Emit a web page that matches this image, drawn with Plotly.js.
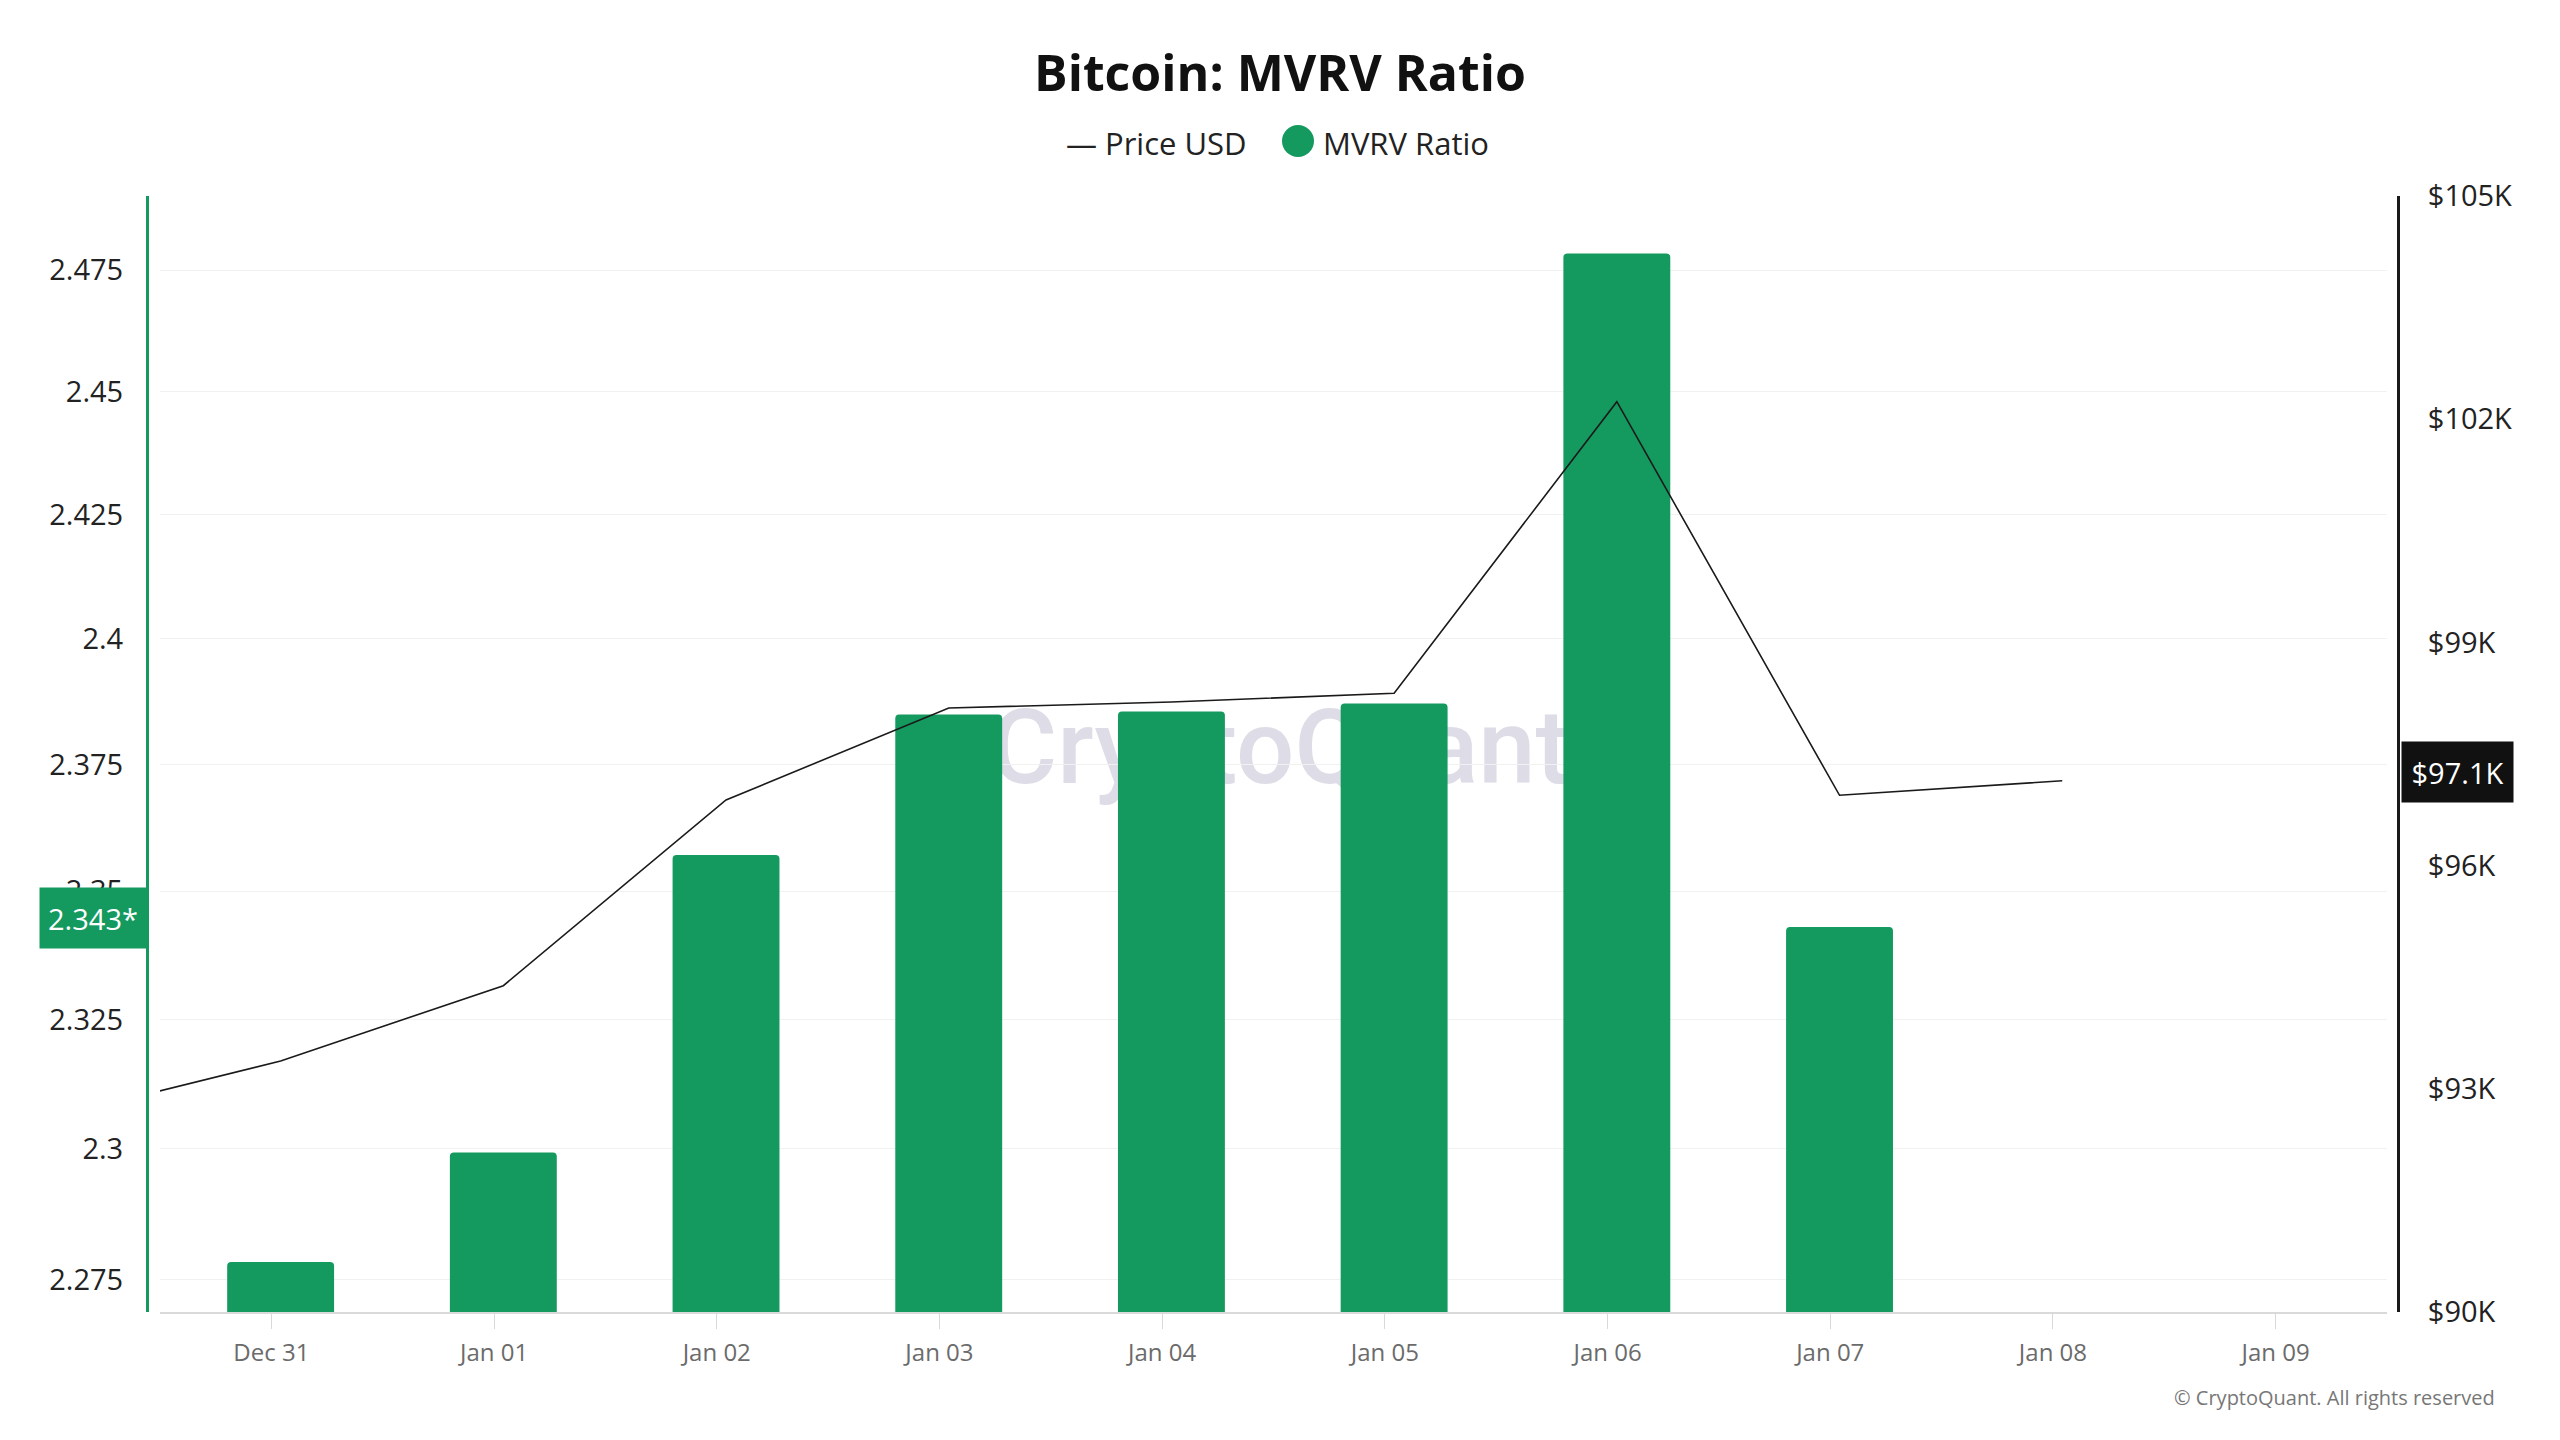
<!DOCTYPE html>
<html>
<head>
<meta charset="utf-8">
<script src="https://cdn.plot.ly/plotly-3.0.1.min.js"></script>
<style>html,body{margin:0;padding:0;background:#fff;}#chart{width:2560px;height:1440px;}</style>
</head>
<body>
<div id="chart"></div>
<script>
// ---- data ----
const PRICE_DATES = ['2024-12-30 01:00','2024-12-31 01:00','2025-01-01 01:00','2025-01-02 01:00','2025-01-03 01:00','2025-01-04 01:00','2025-01-05 01:00','2025-01-06 01:00','2025-01-07 01:00','2025-01-08 01:00'];
const PRICE_USD = [92632, 93374, 94386, 96882, 98118, 98199, 98316, 102235, 96945, 97140];
const MVRV_DATES = ['2024-12-31 01:00','2025-01-01 01:00','2025-01-02 01:00','2025-01-03 01:00','2025-01-04 01:00','2025-01-05 01:00','2025-01-06 01:00','2025-01-07 01:00'];
const MVRV_RATIO = [2.2784, 2.2993, 2.3571, 2.3849, 2.3855, 2.3871, 2.4785, 2.343];
const LEFT_TICKS = [2.275, 2.3, 2.325, 2.35, 2.375, 2.4, 2.425, 2.45, 2.475];
const LEFT_TICK_LABELS = ['2.275','2.3','2.325','2.35','2.375','2.4','2.425','2.45','2.475'];
const RIGHT_TICKS = [90000, 93000, 96000, 99000, 102000, 105000];
const RIGHT_TICK_LABELS = ['$90K','$93K','$96K','$99K','$102K','$105K'];
const X_RANGE = ['2024-12-30 12:00', '2025-01-09 12:00'];
const LEFT_RANGE = [2.2689, 2.4904];
const RIGHT_RANGE = [90000, 105000];

// ---- layout geometry ----
const W = 2560, H = 1440;
const ML = 147, MR = 162, MT = 196, MB = 128;
const PW = W - ML - MR, PH = H - MT - MB;
const px = x => (x - ML) / PW;
const py = y => (H - MB - y) / PH;

const GREEN = '#14995f';
const FONT = 'Open Sans, Noto Sans, sans-serif';

const lastMvrv = MVRV_RATIO[MVRV_RATIO.length - 1];
const lastPrice = PRICE_USD[PRICE_USD.length - 1];

const traces = [
  {
    type: 'bar', name: 'MVRV Ratio', x: MVRV_DATES, y: MVRV_RATIO,
    xaxis: 'x', yaxis: 'y',
    marker: {color: GREEN, cornerradius: 4, line: {width: 0}},
    showlegend: false, hoverinfo: 'x+y'
  },
  {
    type: 'scatter', mode: 'lines', name: 'Price USD', x: PRICE_DATES, y: PRICE_USD,
    xaxis: 'x', yaxis: 'y2',
    line: {color: '#1a1a1a', width: 1.6},
    showlegend: false
  }
];

const layout = {
  width: W, height: H,
  paper_bgcolor: '#ffffff', plot_bgcolor: '#ffffff',
  margin: {l: ML, r: MR, t: MT, b: MB, pad: 0},
  font: {family: FONT, color: '#222'},
  showlegend: false,
  bargap: 0.52,
  title: {
    text: 'Bitcoin: MVRV Ratio',
    font: {family: FONT, size: 50, color: '#111', weight: 700},
    x: 0.5, xref: 'container', xanchor: 'center',
    y: 1 - 73 / H, yref: 'container', yanchor: 'middle'
  },
  xaxis: {
    type: 'date', domain: [px(160), px(2387)], range: X_RANGE,
    tickformat: '%b %d', dtick: 86400000, tick0: '2024-12-31',
    showgrid: false, zeroline: false,
    showline: true, linecolor: '#d9d9d9', linewidth: 2,
    ticks: 'outside', ticklen: 15, tickwidth: 1, tickcolor: '#d9d9d9',
    ticklabelstandoff: 3,
    tickfont: {family: FONT, size: 24, color: '#6b6b6b'}
  },
  yaxis: {
    type: 'log', anchor: 'free', position: 0, side: 'left',
    range: [Math.log10(LEFT_RANGE[0]), Math.log10(LEFT_RANGE[1])],
    tickmode: 'array', tickvals: LEFT_TICKS, ticktext: LEFT_TICK_LABELS,
    showgrid: true, gridcolor: '#f1f1f1', gridwidth: 1, zeroline: false,
    showline: true, linecolor: GREEN, linewidth: 3,
    ticks: '', ticklabelstandoff: 17,
    tickfont: {family: FONT, size: 29, color: '#222'}
  },
  yaxis2: {
    overlaying: 'y', anchor: 'free', position: 1, side: 'right',
    range: RIGHT_RANGE,
    tickmode: 'array', tickvals: RIGHT_TICKS, ticktext: RIGHT_TICK_LABELS,
    showgrid: false, zeroline: false,
    showline: true, linecolor: '#1a1a1a', linewidth: 3,
    ticks: '', ticklabelstandoff: 22,
    tickfont: {family: FONT, size: 29, color: '#222'}
  },
  shapes: [
    {
      type: 'rect', layer: 'below', xref: 'paper', yref: 'paper',
      x0: px(960), x1: px(1600), y0: py(805), y1: py(675),
      line: {width: 0}, fillcolor: 'rgba(0,0,0,0)',
      label: {text: 'CryptoQuant', textposition: 'middle center',
              font: {family: 'Roboto, sans-serif', size: 103, color: '#dedce7', weight: 500}}
    },
    {
      type: 'circle', xref: 'paper', yref: 'paper',
      xsizemode: 'pixel', ysizemode: 'pixel',
      xanchor: px(1298), yanchor: py(141),
      x0: -16, x1: 16, y0: -16, y1: 16,
      fillcolor: GREEN, line: {width: 0}
    }
  ],
  annotations: [
    {
      text: '— Price USD', xref: 'paper', yref: 'paper',
      x: px(1064), y: py(143), xanchor: 'left', yanchor: 'middle',
      showarrow: false, font: {family: FONT, size: 31, color: '#222'}
    },
    {
      text: 'MVRV Ratio', xref: 'paper', yref: 'paper',
      x: px(1321), y: py(143), xanchor: 'left', yanchor: 'middle',
      showarrow: false, font: {family: FONT, size: 31, color: '#222'}
    },
    {
      text: lastMvrv.toFixed(3) + '*', xref: 'paper', yref: 'y',
      x: 0, y: Math.log10(lastMvrv), xanchor: 'right', yanchor: 'middle',
      yshift: 9, width: 106, height: 60, borderpad: 0, align: 'center', valign: 'middle',
      bgcolor: GREEN, showarrow: false,
      font: {family: FONT, size: 29, color: '#ffffff'}
    },
    {
      text: '$' + (lastPrice / 1000).toFixed(1) + 'K', xref: 'paper', yref: 'y2',
      x: 1, y: lastPrice, xanchor: 'left', yanchor: 'middle',
      xshift: 3, yshift: 9, width: 111, height: 60, borderpad: 0, align: 'center', valign: 'middle',
      bgcolor: '#111111', showarrow: false,
      font: {family: FONT, size: 29, color: '#ffffff'}
    },
    {
      text: '© CryptoQuant. All rights reserved', xref: 'paper', yref: 'paper',
      x: px(2497), y: py(1397), xanchor: 'right', yanchor: 'middle',
      showarrow: false, font: {family: FONT, size: 20, color: '#777777'}
    }
  ]
};

Plotly.newPlot('chart', traces, layout, {displayModeBar: false, staticPlot: true});
</script>
</body>
</html>
